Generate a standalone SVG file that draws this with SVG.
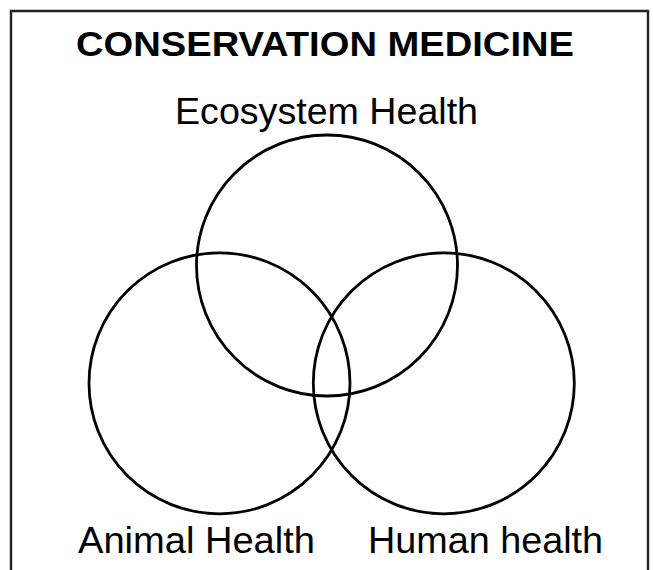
<svg xmlns="http://www.w3.org/2000/svg" width="653" height="570" viewBox="0 0 653 570">
<style>
.frame{fill:none;stroke:#222;stroke-width:2.4}
.c{fill:none;stroke:#000;stroke-width:2.8}
.t{font-family:"Liberation Sans",Arial,sans-serif;fill:#000}
.title{font-weight:bold;font-size:35px}
.lbl{font-size:36px}
</style>
<rect width="653" height="570" fill="#fff"/>
<path class="frame" d="M11,575 V11 H648 V575"/>
<text class="t title" x="76" y="56" textLength="498" lengthAdjust="spacingAndGlyphs">CONSERVATION MEDICINE</text>
<g id="ecosystem">
<circle class="c" cx="327" cy="265.5" r="130.5"/>
<text class="t lbl" x="175" y="124" textLength="303" lengthAdjust="spacingAndGlyphs">Ecosystem Health</text>
</g>
<g id="animal">
<circle class="c" cx="219.5" cy="383.3" r="130.5"/>
<text class="t lbl" x="78" y="553" textLength="237" lengthAdjust="spacingAndGlyphs">Animal Health</text>
</g>
<g id="human">
<circle class="c" cx="443.8" cy="383.3" r="130.5"/>
<text class="t lbl" x="368" y="553" textLength="235" lengthAdjust="spacingAndGlyphs">Human health</text>
</g>
<g id="connectors"></g>
</svg>
